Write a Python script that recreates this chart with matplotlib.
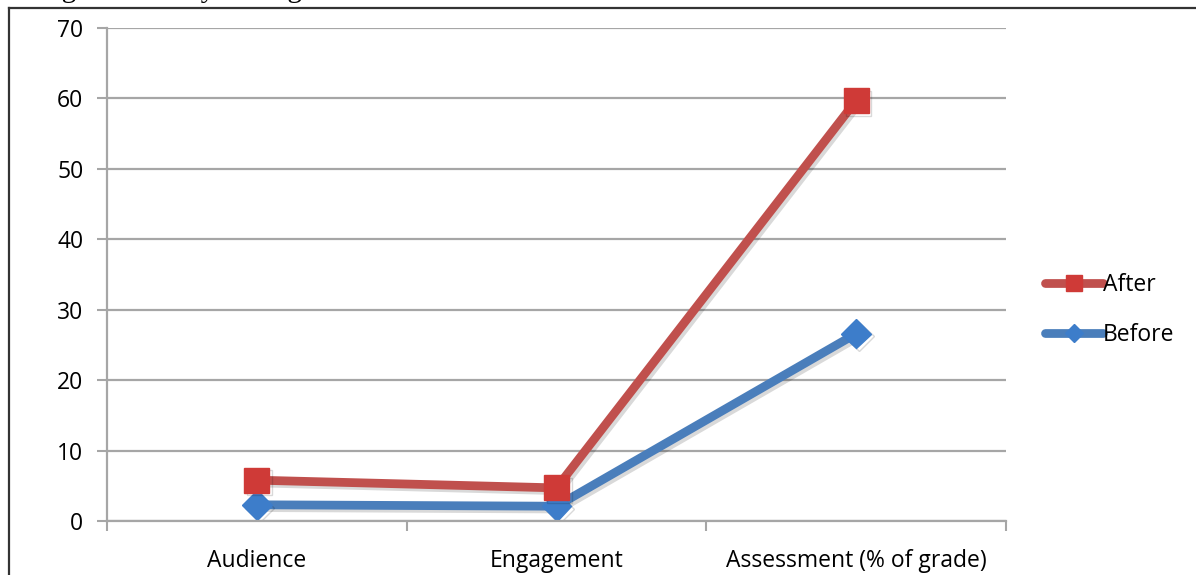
import matplotlib.pyplot as plt
import matplotlib.patheffects as pe
from matplotlib.lines import Line2D

# survey results per category
categories = ["Audience", "Engagement", "Assessment (% of grade)"]
after = [5.8, 4.7, 59.7]
before = [2.3, 2.1, 26.6]
yticks = [0, 10, 20, 30, 40, 50, 60, 70]

red = "#C0504D"
red_mk = "#CF3A37"
blue = "#4A7EBB"
blue_mk = "#3D7DCA"
grid_col = "#A6A6A6"

W, H = 1196, 575
fig = plt.figure(figsize=(W / 100, H / 100), dpi=100)
plt.rcParams["font.family"] = ["Open Sans", "DejaVu Sans"]

ax = fig.add_axes([107 / W, (H - 521) / H, (1006 - 107) / W, (521 - 28) / H])

shadow = [pe.SimpleLineShadow(offset=(2, -2), alpha=0.15, shadow_color="black"), pe.Normal()]
x = list(range(len(categories)))
ax.plot(x, after, color=red, lw=6.3, marker="s", ms=18, mfc=red_mk, mec=red_mk,
        solid_capstyle="round", path_effects=shadow, zorder=3)
ax.plot(x, before, color=blue, lw=6.3, marker="D", ms=15, mfc=blue_mk, mec=blue_mk,
        solid_capstyle="round", path_effects=shadow, zorder=2)

ax.set_xlim(-0.5, len(categories) - 0.5)
ax.set_ylim(0, 70)
ax.set_yticks(yticks)
ax.set_yticklabels([str(v) for v in yticks])
ax.yaxis.grid(True, color=grid_col, lw=1.6)
ax.set_axisbelow(True)

ax.set_xticks(x)
ax.set_xticklabels(categories)
ax.set_xticks([i - 0.5 for i in range(len(categories) + 1)], minor=True)
ax.tick_params(axis="x", which="major", length=0, pad=20, labelsize=16.5)
ax.tick_params(axis="x", which="minor", length=7, width=1.5, color=grid_col, direction="out")
ax.tick_params(axis="y", length=7, width=1.5, color=grid_col, pad=10, labelsize=16.5)

for side in ["top", "right"]:
    ax.spines[side].set_visible(False)
for side in ["left", "bottom"]:
    ax.spines[side].set_color(grid_col)
    ax.spines[side].set_linewidth(1.6)

# legend with smaller markers
handles = [
    Line2D([], [], color=red, lw=6.3, marker="s", ms=12, mfc=red_mk, mec=red_mk, solid_capstyle="round"),
    Line2D([], [], color=blue, lw=6.3, marker="D", ms=9, mfc=blue_mk, mec=blue_mk, solid_capstyle="round"),
]
fig.legend(handles, ["After", "Before"], loc="center left",
           bbox_to_anchor=(1024 / W, 1 - 310 / H), frameon=False,
           fontsize=16.5, handlelength=2.55, handletextpad=0.0, labelspacing=1.15)

# outer frame and clipped caption line above it
fig.add_artist(Line2D([9 / W, 9 / W], [0, 1 - 8 / H], color="#333333", lw=1.6))
fig.add_artist(Line2D([9 / W, 1], [1 - 8 / H, 1 - 8 / H], color="#333333", lw=1.6))
fig.text(0 / W, 1 + 3 / H, "Changes in survey among all classes", family="Liberation Serif",
         fontsize=21, va="baseline", ha="left", color="black")

fig.savefig("out.png", dpi=100)
